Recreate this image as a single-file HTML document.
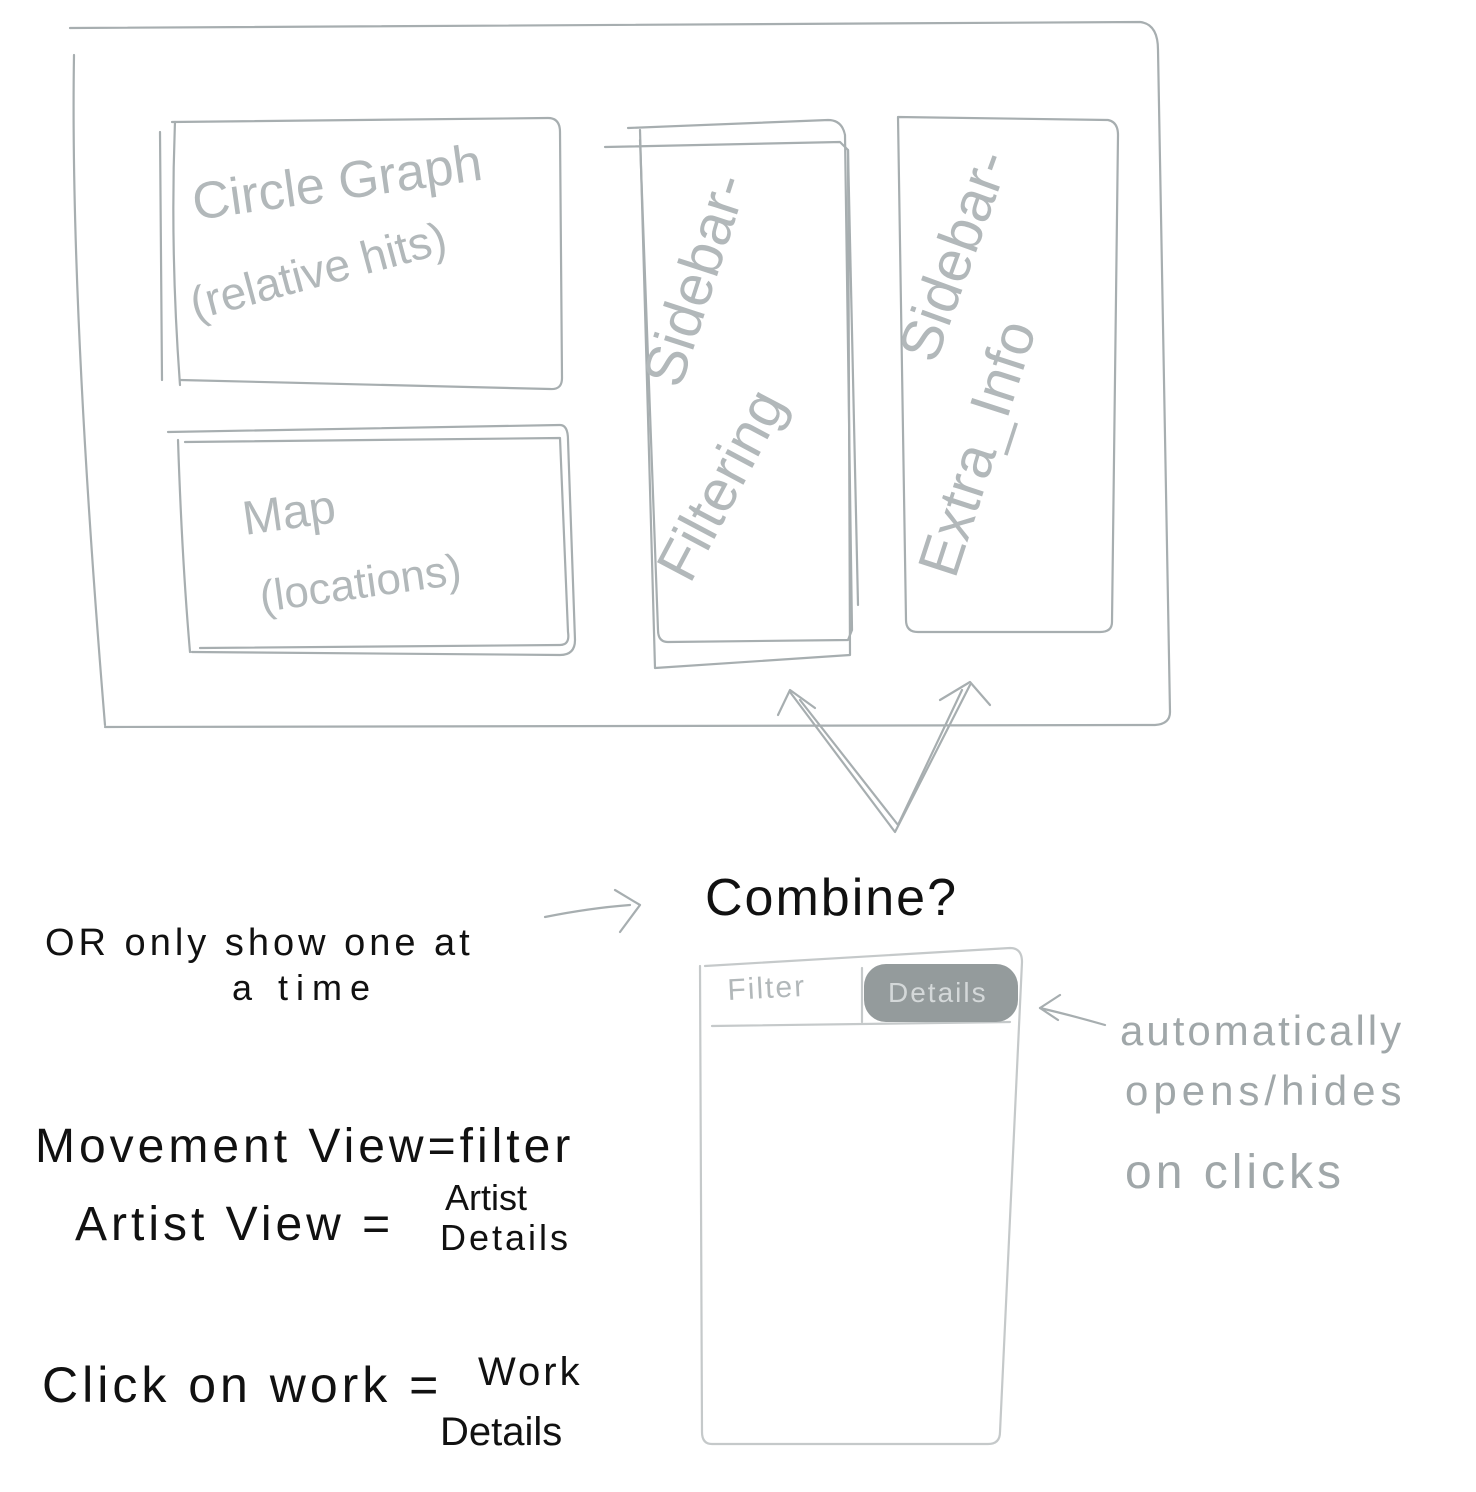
<!DOCTYPE html>
<html><head><meta charset="utf-8"><style>
html,body{margin:0;padding:0;background:#fff;}
svg{display:block;}
text{font-family:"Liberation Sans",sans-serif;}
</style></head><body>
<svg width="1476" height="1492" viewBox="0 0 1476 1492" xmlns="http://www.w3.org/2000/svg">
<g fill="none" stroke="#a7aeb0" stroke-width="2.2" stroke-linecap="round" stroke-linejoin="round">
<path d="M70 28 L1140 22 Q1158 24 1158 50 L1170 712 Q1170 724 1155 725 L105 727"/>
<path d="M74 55 Q70 300 105 725"/>
<path d="M172 122 L548 118 Q560 118 560 132 L562 378 Q562 390 550 389 L180 380"/>
<path d="M175 122 Q170 250 180 385"/>
<path d="M160 132 L162 380"/>
<path d="M168 432 L560 425 Q568 425 568 440 L575 640 Q575 655 560 655 L192 652"/>
<path d="M178 440 Q182 560 190 652"/>
<path d="M185 442 L560 438 L568 632 Q570 645 560 645 L200 648"/>
<path d="M605 147 L840 142 L848 150 L850 655 L655 668 L640 130"/>
<path d="M628 128 L828 120 Q842 120 845 135 L852 630 L848 640 L668 642 Q658 642 658 630 L640 140"/>
<path d="M848 150 L858 605"/>
<path d="M898 117 L1108 120 Q1118 122 1118 135 L1112 622 Q1112 632 1100 632 L918 632 Q906 632 906 620 L898 117"/>
<path d="M778 715 L790 690 L815 708"/>
<path d="M790 692 L895 832 L970 685"/>
<path d="M800 700 L898 825 L962 690"/>
<path d="M940 700 L970 682 L990 705"/>
<path d="M545 917 Q590 908 630 905"/>
<path d="M615 890 L640 905 L620 932"/>
<path d="M1105 1025 Q1070 1015 1040 1008"/>
<path d="M1060 995 L1040 1008 L1058 1020"/>
</g>
<g fill="none" stroke="#c5c9ca" stroke-width="2.2" stroke-linecap="round">
<path d="M705 966 L1010 948 Q1022 948 1022 962 L1000 1432 Q1000 1444 988 1444 L712 1444 Q702 1444 702 1432 L700 966"/>
<path d="M712 1026 L1010 1022"/>
<path d="M862 968 L862 1022"/>
</g>
<rect x="864" y="964" width="154" height="58" rx="22" fill="#949b9c"/>
<g fill="#b2b8ba">
<text transform="translate(195,220) rotate(-8)" font-size="52">Circle Graph</text>
<text transform="translate(195,320) rotate(-15)" font-size="46">(relative hits)</text>
<text transform="translate(245,535) rotate(-8)" font-size="48">Map</text>
<text transform="translate(262,612) rotate(-8)" font-size="44">(locations)</text>
<text transform="translate(680,390) rotate(-72)" font-size="58">Sidebar-</text>
<text transform="translate(690,585) rotate(-62)" font-size="58">Filtering</text>
<text transform="translate(935,365) rotate(-70)" font-size="58">Sidebar-</text>
<text transform="translate(955,580) rotate(-72)" font-size="58">Extra_Info</text>
<text x="728" y="1000" font-size="30" letter-spacing="2" transform="rotate(-3 728 1000)">Filter</text>
<text x="1120" y="1045" font-size="42" fill="#a0a7a9" letter-spacing="3">automatically</text>
<text x="1125" y="1105" font-size="42" fill="#a0a7a9" letter-spacing="5">opens/hides</text>
<text x="1125" y="1188" font-size="48" fill="#a0a7a9" letter-spacing="4">on clicks</text>
</g>
<text x="888" y="1002" font-size="28" fill="#d4d8d9" letter-spacing="2">Details</text>
<g fill="#111">
<text x="705" y="915" font-size="52" letter-spacing="2">Combine?</text>
<text x="45" y="955" font-size="38" letter-spacing="4">OR only show one at</text>
<text x="232" y="1000" font-size="36" letter-spacing="8">a  time</text>
<text x="35" y="1162" font-size="48" letter-spacing="4">Movement View=filter</text>
<text x="75" y="1240" font-size="48" letter-spacing="4">Artist  View =</text>
<text x="445" y="1210" font-size="36">Artist</text>
<text x="440" y="1250" font-size="36" letter-spacing="3">Details</text>
<text x="42" y="1402" font-size="50" letter-spacing="4">Click on work =</text>
<text x="478" y="1385" font-size="40" letter-spacing="3">Work</text>
<text x="440" y="1445" font-size="40">Details</text>
</g>
</svg>
</body></html>
